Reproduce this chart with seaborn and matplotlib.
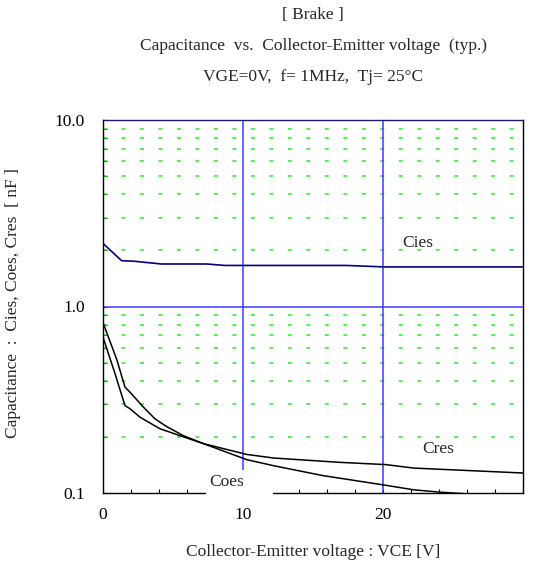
import matplotlib
matplotlib.use("Agg")
import matplotlib.pyplot as plt
import matplotlib.patches as mpatches
import seaborn as sns
import pandas as pd
import numpy as np

# ---- data ----
cies_x = [0.0, 1.33, 2.17, 4.19, 7.4, 8.7, 17.4, 20.1, 30.0]
cies_y = [2.18, 1.76, 1.75, 1.69, 1.69, 1.66, 1.66, 1.63, 1.63]

coes_x = [0.0, 0.98, 1.57, 1.93, 2.88, 3.71, 4.55, 5.74, 7.17, 10.26, 12.2, 15.7, 20.2, 22.2, 24.1, 25.5, 26.5]
coes_y = [0.82, 0.52, 0.37, 0.347, 0.289, 0.25, 0.227, 0.203, 0.184, 0.151, 0.140, 0.124, 0.110, 0.104, 0.101, 0.0995, 0.098]

cres_x = [0.0, 0.86, 1.57, 1.93, 2.64, 4.07, 5.5, 7.17, 10.26, 12.2, 16.9, 20.2, 22.2, 30.0]
cres_y = [0.685, 0.436, 0.294, 0.283, 0.255, 0.221, 0.203, 0.184, 0.161, 0.154, 0.146, 0.142, 0.136, 0.128]

x_ticks = [0, 10, 20]
x_ticklabels = ["0", "10", "20"]
y_ticks = [0.1, 1.0, 10.0]
y_ticklabels = ["0.1", "1.0", "10.0"]

title_lines = ["[ Brake ]",
               "Capacitance  vs.  Collector-Emitter voltage  (typ.)",
               "VGE=0V,  f= 1MHz,  Tj= 25\u00b0C"]
xlabel = "Collector-Emitter voltage : VCE [V]"
ylabel = "Capacitance  :  Cies, Coes, Cres  [ nF ]"

sns.set_style("white")
plt.rcParams['font.family'] = ['Liberation Serif', 'DejaVu Serif']

fig = plt.figure(figsize=(5.34, 5.62), dpi=100)
ax = fig.add_axes([103/534, 1-493/562, 420/534, 373/562])

df_cies = pd.DataFrame({"VCE": cies_x, "C": cies_y})
df_coes = pd.DataFrame({"VCE": coes_x, "C": coes_y})
df_cres = pd.DataFrame({"VCE": cres_x, "C": cres_y})

ax.set_yscale("log")
ax.set_xlim(0, 30)
ax.set_ylim(0.1, 10)

# grid: green dashed minor, blue major
minor_y = [m * d for d in (0.1, 1.0) for m in range(2, 10)]
for yv in minor_y:
    ax.axhline(yv, color="#22ee22", lw=1.1, linestyle=(0, (2.6, 9.5)), zorder=1)
ax.axhline(1.0, color="#3c3cff", lw=1.1, zorder=1.2)
ax.axhline(10.0, color="#3c3cff", lw=1.1, zorder=1.2)
for xv in (10, 20):
    ax.axvline(xv, color="#3c3cff", lw=1.1, zorder=1.2)

sns.lineplot(data=df_cies, x="VCE", y="C", ax=ax, color="#000080", lw=1.2, zorder=3)
sns.lineplot(data=df_coes, x="VCE", y="C", ax=ax, color="black", lw=1.1, zorder=3)
sns.lineplot(data=df_cres, x="VCE", y="C", ax=ax, color="black", lw=1.1, zorder=3)

ax.set_xticks(x_ticks)
ax.set_xticklabels(x_ticklabels)
ax.set_xticks(np.arange(0, 31, 2), minor=True)
ax.set_yticks(y_ticks)
ax.set_yticklabels(y_ticklabels)
ax.set_yticks(minor_y, minor=True)
ax.yaxis.set_minor_formatter(matplotlib.ticker.NullFormatter())
ax.tick_params(axis="both", which="both", direction="in", length=3, width=0.8, colors="black",
               labelsize=12.5, bottom=True, left=True, top=False, right=False)
ax.tick_params(axis="x", which="major", pad=10)
ax.tick_params(axis="y", which="major", pad=13)
ax.set_xlabel("")
ax.set_ylabel("")

for s in ("left", "bottom", "right"):
    ax.spines[s].set_color("black")
    ax.spines[s].set_linewidth(1.0)
ax.spines["top"].set_color("#1a1a70")
ax.spines["top"].set_linewidth(1.0)

# labels
ax.text(21.4, 2.18, "Cies", fontsize=12.5, va="center", ha="left", zorder=5)
ax.text(22.8, 0.173, "Cres", fontsize=12.5, va="center", ha="left", zorder=5)
mask = mpatches.Rectangle((7.36, -0.01), 4.78, 0.072, transform=ax.get_xaxis_transform(),
                          facecolor="white", edgecolor="none", zorder=4, clip_on=False)
ax.add_patch(mask)
ax.text(7.6, 0.114, "Coes", fontsize=12.5, va="center", ha="left", zorder=5, clip_on=False)

cx = (103 + 523) / 2 / 534
fig.text(cx, 1 - 15/562, title_lines[0], ha="center", va="center", fontsize=12.5)
fig.text(cx, 1 - 46/562, title_lines[1], ha="center", va="center", fontsize=12.5)
fig.text(cx, 1 - 77/562, title_lines[2], ha="center", va="center", fontsize=12.5)
fig.text(cx, 1 - 552/562, xlabel, ha="center", va="center", fontsize=12.5)
fig.text(13/534, 1 - 303/562, ylabel, ha="center", va="center", rotation=90, fontsize=12.5)

fig.savefig("out.png", dpi=100)
